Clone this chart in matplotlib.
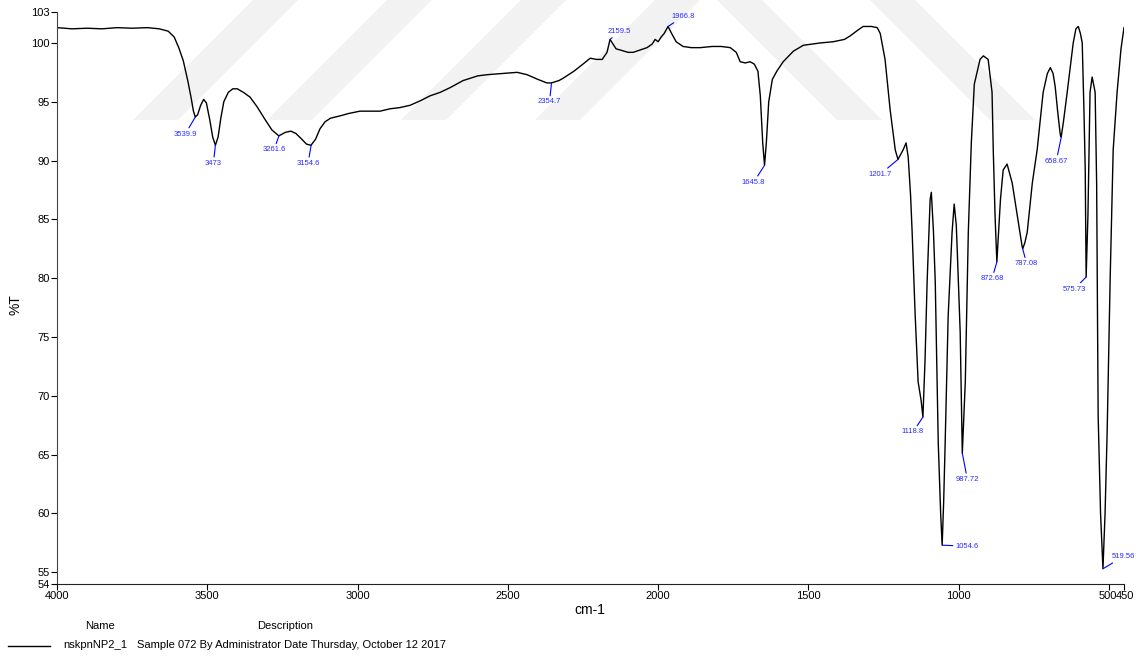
import matplotlib
matplotlib.use("Agg")
import matplotlib.pyplot as plt
import matplotlib.transforms as mtransforms
from matplotlib.patches import Polygon

plt.rcParams['font.family'] = ['Liberation Sans', 'DejaVu Sans']

# FTIR spectrum, wavenumber (cm-1) vs transmittance (%T)
wavenumber = [4000, 3950, 3900, 3850, 3800, 3750, 3700, 3660, 3630, 3610,
              3595, 3580, 3565, 3555, 3546, 3540, 3532, 3522, 3512, 3503,
              3492, 3482, 3473, 3464, 3455, 3445, 3430, 3415, 3400, 3380,
              3358, 3335, 3308, 3285, 3262, 3240, 3222, 3205, 3185, 3170,
              3155, 3140, 3125, 3108, 3090, 3058, 3030, 2992, 2960, 2925,
              2892, 2860, 2825, 2790, 2759, 2725, 2692, 2649, 2600, 2569,
              2520, 2469, 2436, 2400, 2370, 2355, 2330, 2316, 2280, 2250,
              2226, 2205, 2186, 2170, 2160, 2150, 2140, 2126, 2100, 2083,
              2060, 2037, 2020, 2010, 2000, 1990, 1980, 1967, 1955, 1940,
              1917, 1890, 1860, 1820, 1790, 1760, 1740, 1727, 1710, 1694,
              1680, 1668, 1660, 1652, 1646, 1640, 1632, 1620, 1605, 1584,
              1550, 1517, 1460, 1418, 1380, 1361, 1335, 1318, 1290, 1271,
              1261, 1245, 1228, 1211, 1202, 1185, 1175, 1168, 1160, 1155,
              1145, 1135, 1125, 1119, 1112, 1105, 1095, 1091, 1084, 1078,
              1068, 1060, 1055, 1050, 1045, 1035, 1022, 1015, 1008, 1005,
              995, 988, 978, 968, 958, 948, 929, 918, 902, 889,
              885, 879, 873, 867, 861, 852, 839, 822, 805, 789,
              787, 780, 772, 755, 739, 719, 705, 695, 686, 679,
              670, 662, 659, 652, 639, 619, 610, 602, 595, 589,
              583, 579, 576, 570, 563, 556, 546, 541, 536, 528,
              520, 513, 506, 496, 486, 473, 460, 450]
transmittance = [101.3, 101.2, 101.25, 101.2, 101.3, 101.25, 101.3, 101.2, 101.0, 100.5,
                 99.6, 98.5, 96.8, 95.5, 94.2, 93.7, 93.9, 94.7, 95.2, 94.9,
                 93.5, 92.0, 91.3, 92.0, 93.6, 95.0, 95.8, 96.1, 96.1, 95.8,
                 95.4, 94.6, 93.5, 92.6, 92.1, 92.4, 92.5, 92.3, 91.8, 91.4,
                 91.3, 91.8, 92.7, 93.3, 93.6, 93.8, 94.0, 94.2, 94.2, 94.2,
                 94.4, 94.5, 94.7, 95.1, 95.5, 95.8, 96.2, 96.8, 97.2, 97.3,
                 97.4, 97.5, 97.3, 96.9, 96.6, 96.6, 96.8, 97.0, 97.6, 98.2,
                 98.7, 98.6, 98.6, 99.2, 100.3, 99.9, 99.5, 99.4, 99.2, 99.2,
                 99.4, 99.6, 99.9, 100.3, 100.1, 100.5, 100.8, 101.4, 100.8, 100.1,
                 99.7, 99.6, 99.6, 99.7, 99.7, 99.6, 99.2, 98.4, 98.3, 98.4,
                 98.2, 97.6, 95.5, 91.5, 89.6, 91.5, 95.0, 96.9, 97.6, 98.4,
                 99.3, 99.8, 100.0, 100.1, 100.3, 100.6, 101.1, 101.4, 101.4, 101.3,
                 100.8, 98.6, 94.3, 90.9, 90.1, 90.9, 91.5, 90.3, 87.0, 84.0,
                 77.0, 71.2, 69.6, 68.2, 73.0, 79.7, 86.7, 87.3, 84.0, 79.7,
                 66.0, 60.0, 57.3, 61.0, 66.0, 76.8, 83.9, 86.3, 84.5, 82.5,
                 75.4, 65.1, 71.2, 83.9, 91.5, 96.5, 98.6, 98.9, 98.6, 95.8,
                 90.9, 85.3, 81.4, 84.0, 86.7, 89.2, 89.7, 88.1, 85.3, 82.7,
                 82.5, 83.0, 83.9, 88.1, 90.9, 95.8, 97.4, 97.9, 97.4, 96.3,
                 94.0, 92.2, 92.0, 93.2, 95.8, 100.0, 101.2, 101.4, 100.8, 100.0,
                 94.0, 89.2, 80.1, 85.3, 95.8, 97.1, 95.8, 88.0, 68.3, 60.0,
                 55.3, 60.0, 67.0, 80.0, 90.9, 95.8, 99.5, 101.3]

# picked peaks: label, transmittance at the peak, label offset (pixels)
peak_labels = ["3539.9", "3473", "3261.6", "3154.6", "2354.7", "2159.5", "1966.8",
               "1645.8", "1201.7", "1118.8", "1054.6", "987.72", "872.68", "787.08",
               "658.67", "575.73", "519.56"]
peak_pos = [3539.9, 3473, 3261.6, 3154.6, 2354.7, 2159.5, 1966.8, 1645.8, 1201.7,
            1118.8, 1054.6, 987.72, 872.68, 787.08, 658.67, 575.73, 519.56]
peak_t = [93.7, 91.3, 92.1, 91.3, 96.6, 100.3, 101.4, 89.6, 90.1,
          68.2, 57.3, 65.1, 81.4, 82.5, 92.0, 80.1, 55.3]
label_off = [(-10, -17), (-2, -18), (-5, -14), (-3, -18), (-2, -19), (9, 8), (15, 10),
             (-11, -17), (-18, -15), (-10, -15), (25, -1), (5, -26), (-5, -17), (4, -15),
             (-5, -24), (-12, -12), (20, 12)]

xticks = [4000, 3500, 3000, 2500, 2000, 1500, 1000, 500, 450]
yticks = [54, 55, 60, 65, 70, 75, 80, 85, 90, 95, 100]
y_top = 102.63  # the instrument software labels this axis end "103"

W, H = 1142, 657
fig = plt.figure(figsize=(W / 100, H / 100), dpi=100)

# faint watermark stripes behind the plot
stripe_col = '#f2f2f2'
for x0 in [133, 267, 401, 535]:
    pts = [(x0, 120), (x0 + 45, 120), (x0 + 45 + 120, 0), (x0 + 120, 0)]
    fig.add_artist(Polygon([(px / W, 1 - py / H) for px, py in pts],
                           transform=fig.transFigure, color=stripe_col, zorder=-5, lw=0))
for x0 in [717, 870]:
    pts = [(x0, 0), (x0 + 45, 0), (x0 + 45 + 120, 120), (x0 + 120, 120)]
    fig.add_artist(Polygon([(px / W, 1 - py / H) for px, py in pts],
                           transform=fig.transFigure, color=stripe_col, zorder=-5, lw=0))

ax = fig.add_axes([57 / W, 1 - 584 / H, (1124 - 57) / W, (584 - 12) / H])
ax.set_facecolor('none')
ax.plot(wavenumber, transmittance, color='black', lw=1.0)

for lab, x, y, off in zip(peak_labels, peak_pos, peak_t, label_off):
    ax.annotate(lab, xy=(x, y), xytext=off, textcoords='offset pixels',
                ha='center', va='center', fontsize=5.5, color='#2a2aff',
                arrowprops=dict(arrowstyle='-', color='blue', lw=0.8,
                                shrinkA=0, shrinkB=0))

ax.set_xlim(4000, 450)
ax.set_ylim(54, y_top)
ax.set_xticks(xticks)
ax.set_yticks(yticks + [y_top])
ax.set_yticklabels([str(v) for v in yticks] + ["103"])
ax.tick_params(labelsize=8, length=4, width=0.8, pad=1)
for s in ['top', 'right']:
    ax.spines[s].set_visible(False)
ax.spines['left'].set_color('#444444')
ax.spines['bottom'].set_color('#222222')

# 500 and 450 sit next to each other; nudge them apart so they just touch
xlabels = ax.get_xticklabels()
xlabels[-2].set_transform(xlabels[-2].get_transform() +
                          mtransforms.ScaledTranslation(-1.2 / 100, 0, fig.dpi_scale_trans))
xlabels[-1].set_transform(xlabels[-1].get_transform() +
                          mtransforms.ScaledTranslation(1.2 / 100, 0, fig.dpi_scale_trans))

fig.text(590 / W, 1 - 610 / H, "cm-1", ha='center', va='center', fontsize=10)
fig.text(15 / W, 1 - 305 / H, "%T", ha='center', va='center', fontsize=10, rotation=90)

# legend block under the axis
fig.text(100 / W, 1 - 626 / H, "Name", ha='center', va='center', fontsize=8)
fig.text(285 / W, 1 - 626 / H, "Description", ha='center', va='center', fontsize=8)
fig.add_artist(plt.Line2D([8 / W, 50 / W], [1 - 646 / H, 1 - 646 / H], color='black', lw=1.0))
fig.text(63 / W, 1 - 645 / H, "nskpnNP2_1", ha='left', va='center', fontsize=8)
fig.text(137 / W, 1 - 645 / H, "Sample 072 By Administrator Date Thursday, October 12 2017",
         ha='left', va='center', fontsize=8)

fig.savefig("out.png", dpi=100)
